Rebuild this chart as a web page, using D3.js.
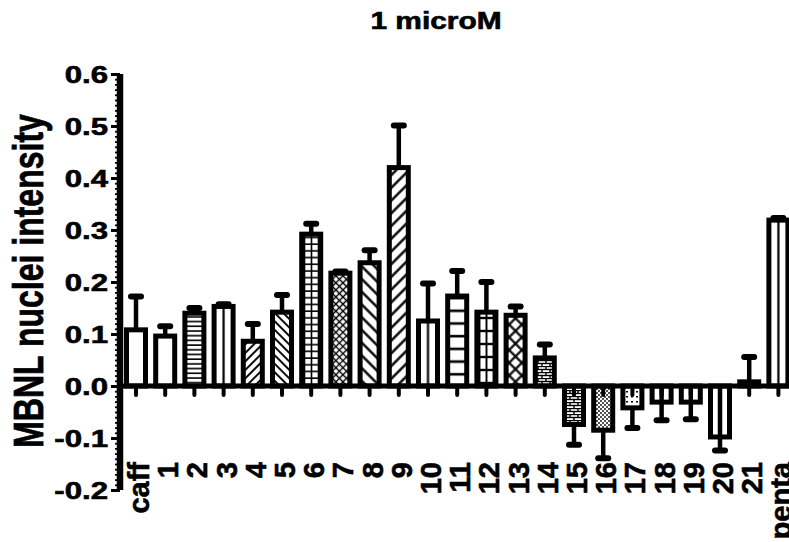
<!DOCTYPE html>
<html>
<head>
<meta charset="utf-8">
<script src="https://cdn.jsdelivr.net/npm/d3@7"></script>
<style>
  body { margin: 0; background: #fff; }
  text { font-family: "Liberation Sans", Arial, sans-serif; font-weight: bold; fill: #000; stroke: #000; stroke-width: 0.6px; }
</style>
</head>
<body>
<div id="graph"></div>
<script>
// chart data
const categories = ["caff", "1", "2", "3", "4", "5", "6", "7", "8", "9", "10",
  "11", "12", "13", "14", "15", "16", "17", "18", "19", "20", "21", "penta"];
const means = [0.108, 0.096, 0.140, 0.153, 0.086, 0.142, 0.292, 0.217, 0.237, 0.420, 0.125,
  0.173, 0.142, 0.136, 0.054, -0.074, -0.085, -0.042, -0.031, -0.031, -0.098, 0.008, 0.319];
const errors = [0.064, 0.019, 0.010, 0.004, 0.033, 0.033, 0.020, 0.003, 0.024, 0.081, 0.072,
  0.048, 0.058, 0.017, 0.026, 0.039, 0.054, 0.039, 0.035, 0.033, 0.026, 0.048, 0.004];
const yTicks = [-0.2, -0.1, 0.0, 0.1, 0.2, 0.3, 0.4, 0.5, 0.6];
const title = "1 microM";
const yTitle = "MBNL nuclei intensity";

// fill style for each bar
const fillKinds = ["white", "white", "hlines", "vline", "diagUp", "diagDown", "grid", "xdense",
  "diagDownWide", "diagUpWide", "vline", "hlinesWide", "gridWide", "xwide", "brick", "brick",
  "dots", "speck", "none", "none", "none", "none", "vline"];

const W = 789, H = 542;
const axisX = 120;
const stretch = 1.3; // glyphs in the picture are widened

const svg = d3.select("#graph").append("svg")
  .attr("width", W).attr("height", H);

const x = d3.scaleBand()
  .domain(categories)
  .range([121.4, 121.4 + 29.2 * categories.length]);
const y = d3.scaleLinear()
  .domain([-0.2, 0.6])
  .range([490, 74]);
const barW = 19;

// patterns
const defs = svg.append("defs");
function pat(id, w, h, draw, rot) {
  const p = defs.append("pattern").attr("id", id)
    .attr("patternUnits", "userSpaceOnUse").attr("width", w).attr("height", h);
  if (rot) p.attr("patternTransform", "rotate(" + rot + ")");
  p.append("rect").attr("width", w).attr("height", h).attr("fill", "#fff");
  draw(p, w, h);
}
function hl(p, w, yy, sw) { p.append("line").attr("x1", 0).attr("x2", w).attr("y1", yy).attr("y2", yy).attr("stroke", "#000").attr("stroke-width", sw); }
function vl(p, h, xx, sw) { p.append("line").attr("x1", xx).attr("x2", xx).attr("y1", 0).attr("y2", h).attr("stroke", "#000").attr("stroke-width", sw); }

pat("hlines", 8, 4.7, (p, w, h) => hl(p, w, 2, 1.6));
pat("hlinesWide", 8, 12.7, (p, w, h) => hl(p, w, 6, 2.6));
pat("diagUp", 6, 6, (p, w, h) => vl(p, h, 3, 1.9), 45);
pat("diagDown", 6, 6, (p, w, h) => vl(p, h, 3, 1.9), -45);
pat("diagUpWide", 9, 9, (p, w, h) => vl(p, h, 4.5, 2.4), 45);
pat("diagDownWide", 9, 9, (p, w, h) => vl(p, h, 4.5, 2.4), -45);
pat("grid", 7, 6.7, (p, w, h) => { hl(p, w, 3, 1.6); vl(p, h, 3.5, 1.6); });
pat("gridWide", 7, 13, (p, w, h) => { hl(p, w, 6, 2.4); vl(p, h, 3.5, 1.9); });
pat("xdense", 5, 5, (p, w, h) => { vl(p, h, 2.5, 1.4); hl(p, w, 2.5, 1.4); }, 45);
pat("xwide", 9, 9, (p, w, h) => { vl(p, h, 4.5, 2.2); hl(p, w, 4.5, 2.2); }, 45);
pat("brick", 8, 6, (p, w, h) => {
  hl(p, w, 0.5, 1.4); hl(p, w, 3.5, 1.4);
  p.append("line").attr("x1", 2).attr("x2", 2).attr("y1", 0.5).attr("y2", 3.5).attr("stroke", "#000").attr("stroke-width", 1.4);
  p.append("line").attr("x1", 6).attr("x2", 6).attr("y1", 3.5).attr("y2", 6).attr("stroke", "#000").attr("stroke-width", 1.4);
});
pat("dots", 4, 4, (p) => {
  p.append("circle").attr("cx", 1).attr("cy", 1).attr("r", 0.9).attr("fill", "#000");
  p.append("circle").attr("cx", 3).attr("cy", 3).attr("r", 0.9).attr("fill", "#000");
});
pat("speck", 5, 5, (p) => {
  p.append("rect").attr("x", 1).attr("y", 1).attr("width", 2).attr("height", 1.5).attr("fill", "#000");
});
// single centred vertical line in each bar
const pv = defs.append("pattern").attr("id", "vline")
  .attr("patternUnits", "objectBoundingBox").attr("width", 1).attr("height", 1);
pv.append("rect").attr("width", 40).attr("height", 600).attr("fill", "#fff");
pv.append("line").attr("x1", barW / 2).attr("x2", barW / 2).attr("y1", 0).attr("y2", 600)
  .attr("stroke", "#000").attr("stroke-width", 2.2);

function fillOf(k) {
  if (k === "white") return "#fff";
  if (k === "none") return "none";
  return "url(#" + k + ")";
}

const data = categories.map((c, i) => ({cat: c, mean: means[i], err: errors[i], kind: fillKinds[i]}));
const cx = d => x(d.cat) + x.bandwidth() / 2;
const tip = d => y(d.mean + Math.sign(d.mean) * d.err);

// error bars (stems start at zero, bars cover them)
svg.selectAll(".stem").data(data).enter().append("line")
  .attr("x1", cx).attr("x2", cx)
  .attr("y1", y(0))
  .attr("y2", tip)
  .attr("stroke", "#000").attr("stroke-width", 4.5);
svg.selectAll(".cap").data(data).enter().append("line")
  .attr("x1", d => cx(d) - 5).attr("x2", d => cx(d) + 5)
  .attr("y1", tip).attr("y2", tip)
  .attr("stroke", "#000").attr("stroke-width", 6).attr("stroke-linecap", "round");

// bars
svg.selectAll(".bar").data(data).enter().append("rect")
  .attr("x", d => cx(d) - barW / 2)
  .attr("width", barW)
  .attr("y", d => y(Math.max(0, d.mean)))
  .attr("height", d => Math.abs(y(d.mean) - y(0)))
  .attr("fill", d => fillOf(d.kind))
  .attr("stroke", "#000").attr("stroke-width", 5);

// x axis
svg.append("line")
  .attr("x1", axisX).attr("x2", W)
  .attr("y1", y(0)).attr("y2", y(0))
  .attr("stroke", "#000").attr("stroke-width", 5);
svg.selectAll(".xtick").data(data).enter().append("line")
  .attr("x1", cx).attr("x2", cx)
  .attr("y1", y(0)).attr("y2", y(0) + 9)
  .attr("stroke", "#000").attr("stroke-width", 4).attr("stroke-linecap", "round");
svg.selectAll(".xlab").data(data).enter().append("text")
  .attr("transform", d => "translate(" + cx(d) + ",462)rotate(-90)")
  .attr("text-anchor", "end")
  .attr("dy", "0.45em")
  .style("font-size", "29px")
  .text(d => d.cat);

// y axis, minor ticks
svg.append("g")
  .attr("transform", "translate(" + axisX + ",0)")
  .call(d3.axisLeft(y).tickValues(d3.range(-20, 61).map(v => v / 100)).tickSize(5).tickSizeOuter(0).tickFormat(""))
  .call(g => g.select(".domain").remove())
  .call(g => g.selectAll("line").attr("stroke-width", 1.8));

// y axis, major ticks + labels
const yAxis = svg.append("g")
  .attr("transform", "translate(" + axisX + ",0)")
  .call(d3.axisLeft(y).tickValues(yTicks).tickSize(9).tickSizeOuter(0).tickFormat(d3.format(".1f")));
yAxis.select(".domain").remove();
yAxis.selectAll("line").attr("stroke-width", 3);
yAxis.selectAll("text")
  .attr("x", 0)
  .attr("dy", "0.35em")
  .attr("transform", "translate(-12,0)scale(" + stretch + ",1)")
  .style("font-size", "24px")
  .style("font-family", "'Liberation Sans', Arial, sans-serif")
  .style("font-weight", "bold")
  .attr("fill", "#000")
  .text(d => d3.format(".1f")(d).replace("−", "-"));

svg.append("line")
  .attr("x1", axisX).attr("x2", axisX)
  .attr("y1", y(-0.2)).attr("y2", y(0.6))
  .attr("stroke", "#000").attr("stroke-width", 6.5);

// titles
svg.append("text")
  .attr("transform", "translate(436,29)scale(" + stretch + ",1)")
  .attr("text-anchor", "middle")
  .style("font-size", "23px")
  .text(title);

svg.append("text")
  .attr("transform", "translate(43,281)scale(" + stretch + ",1)rotate(-90)")
  .attr("text-anchor", "middle")
  .style("font-size", "32px")
  .text(yTitle);
</script>
</body>
</html>
